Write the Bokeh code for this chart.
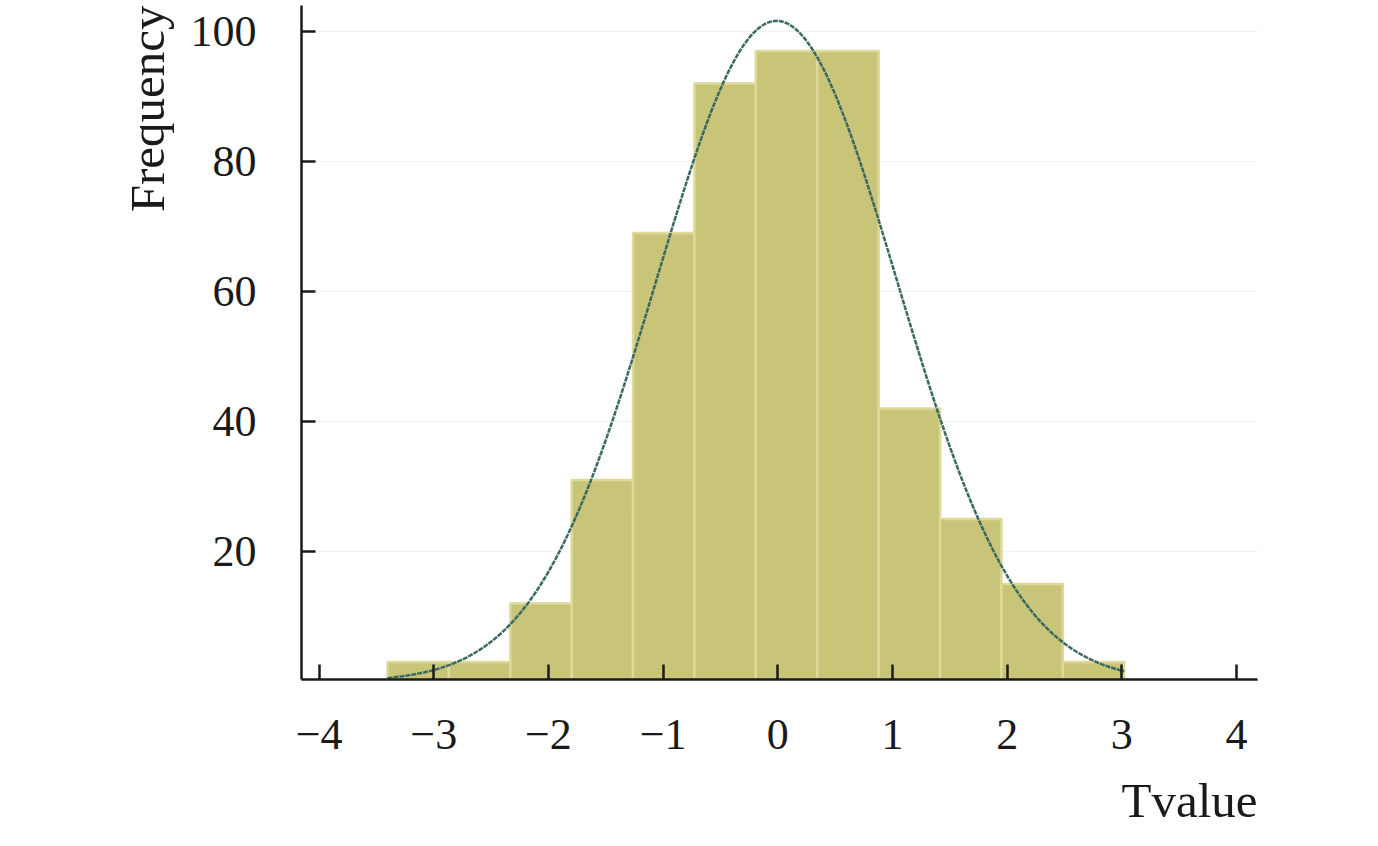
import numpy as np
from bokeh.plotting import figure
from bokeh.models import Range1d, FixedTicker, Title
from bokeh.embed import file_html
from bokeh.resources import INLINE

# ---- data ----
bin_edges = [-3.403, -2.868, -2.332, -1.797, -1.262, -0.726, -0.191,
             0.344, 0.880, 1.415, 1.950, 2.486, 3.021]
counts = [3, 3, 12, 31, 69, 92, 97, 97, 42, 25, 15, 3]
x_ticks = [-4, -3, -2, -1, 0, 1, 2, 3, 4]
x_tick_labels = ["\u22124", "\u22123", "\u22122", "\u22121", "0", "1", "2", "3", "4"]
y_ticks = [0, 20, 40, 60, 80, 100]
# fitted normal curve (parameters)
fit_mean = -0.01
fit_sd = 1.05
fit_n = 500

FONT = "Liberation Serif"

p = figure(width=1362, height=846, output_backend="svg", toolbar_location=None,
           x_range=Range1d(-4.153, 4.183), y_range=Range1d(0.3, 104.0),
           min_border_left=301, min_border_right=105, min_border_top=5,
           min_border_bottom=167)
p.outline_line_color = None
p.background_fill_color = "white"
p.border_fill_color = "white"

bw = bin_edges[1] - bin_edges[0]
p.quad(left=bin_edges[:-1], right=bin_edges[1:], bottom=0, top=counts,
       fill_color="#c8c478", line_color="#ddd99a", line_width=2.5)

xs = np.linspace(bin_edges[0], bin_edges[-1], 300)
ys = fit_n * bw * np.exp(-0.5 * ((xs - fit_mean) / fit_sd) ** 2) / (fit_sd * np.sqrt(2 * np.pi))
p.line(xs, ys, line_color="#3b6963", line_width=2.5, line_dash="5 1")

p.xgrid.grid_line_color = None
p.ygrid.grid_line_color = "#eef3f3"
p.ygrid.grid_line_width = 1

for ax in (p.xaxis[0], p.yaxis[0]):
    ax.axis_line_color = "#1a1a1a"
    ax.axis_line_width = 2.5
    ax.major_tick_line_color = "#1a1a1a"
    ax.major_tick_line_width = 2.5
    ax.major_tick_out = 0
    ax.minor_tick_line_color = None
    ax.major_label_text_font = FONT
    ax.major_label_text_font_size = "44px"
    ax.major_label_text_color = "#1a1a1a"

p.xaxis[0].ticker = FixedTicker(ticks=x_ticks)
p.xaxis[0].major_label_overrides = {t: l for t, l in zip(x_ticks, x_tick_labels)}
p.xaxis[0].major_tick_in = 15
p.xaxis[0].major_label_standoff = 40

p.yaxis[0].ticker = FixedTicker(ticks=y_ticks)
p.yaxis[0].major_tick_in = 14
p.yaxis[0].major_label_standoff = 45
p.ygrid[0].ticker = FixedTicker(ticks=y_ticks)

p.add_layout(Title(text="Frequency", align="right", text_font=FONT,
                   text_font_size="49px", text_font_style="normal",
                   text_color="#1a1a1a", standoff=26), "left")
p.add_layout(Title(text="Tvalue", align="right", text_font=FONT,
                   text_font_size="49px", text_font_style="normal",
                   text_color="#1a1a1a", standoff=38), "below")

open("out.html", "w").write(file_html(p, INLINE))
